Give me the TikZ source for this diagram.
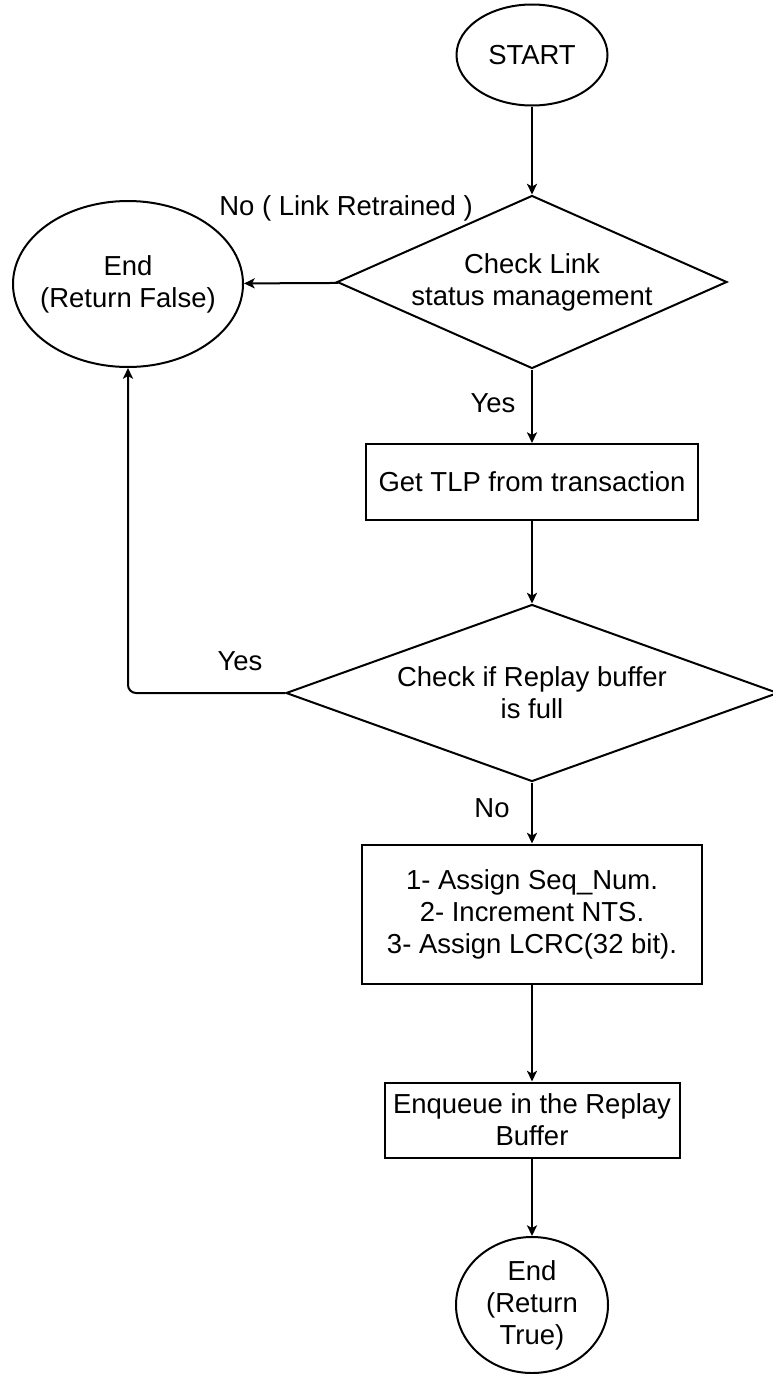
\documentclass[tikz,border=0pt]{standalone}
\usepackage{fontspec}
\setmainfont{Liberation Sans}
\usetikzlibrary{shapes.geometric,arrows.meta}
\tikzset{
    flow-text/.style = {font=\fontsize{20.6}{24}\selectfont, align=center},
    term-oval/.style = {flow-text, draw, ellipse, line width=1.5pt, inner sep=0pt},
    check-diamond/.style = {flow-text, draw, diamond, line width=1.5pt, inner sep=0pt},
    process-box/.style = {flow-text, draw, rectangle, line width=1.5pt, inner sep=0pt},
    flow-arrow/.style = {line width=1.5pt, -{Stealth[length=8pt, width=7.5pt, inset=2pt]}},
    flow-label/.style = {font=\fontsize{20.6}{24}\selectfont, anchor=base},
}

\begin{document}
\begin{tikzpicture}[x=0.75pt, y=-0.75pt]
\useasboundingbox (0,0) rectangle (773,1374);

\node [term-oval, minimum width=113.25pt, minimum height=75.75pt] (start) at (532,55) {START};
\node [check-diamond, aspect=2.25, minimum width=292.5pt, minimum height=129.75pt] (link-check) at (532,282) {Check Link\\status management};
\node [term-oval, inner xsep=-5pt, minimum width=172.5pt, minimum height=124.5pt] (end-false) at (128,284) {End\\(Return False)};
\node [process-box, minimum width=249pt, minimum height=57pt] (get-tlp) at (532,482) {Get TLP from transaction};
\node [check-diamond, aspect=2.78, minimum width=369pt, minimum height=132.75pt] (buffer-check) at (532,693) {Check if Replay buffer\\is full};
\node [process-box, minimum width=255pt, minimum height=104.25pt] (assign) at (532,914) {1- Assign Seq\_Num.\\2- Increment NTS.\\3- Assign LCRC(32 bit).};
\node [process-box, minimum width=221.25pt, minimum height=56.25pt] (enqueue) at (532,1120) {Enqueue in the Replay\\Buffer};
\node [term-oval, minimum width=114pt, minimum height=102pt] (end-true) at (532,1305) {End\\(Return\\True)};

\node [flow-label] (no-retrained) at (346,215) {No ( Link Retrained )};
\node [flow-label] (yes-link) at (493,412) {Yes};
\node [flow-label] (yes-full) at (240,670) {Yes};
\node [flow-label] (no-full) at (492,817) {No};

\draw [flow-arrow] (start) -- (link-check);
\draw [flow-arrow] (link-check) -- (end-false);
\draw [flow-arrow] (link-check) -- (get-tlp);
\draw [flow-arrow] (get-tlp) -- (buffer-check);
\draw [flow-arrow, rounded corners=6pt] (buffer-check.west) -| (end-false.south);
\draw [flow-arrow] (buffer-check) -- (assign);
\draw [flow-arrow] (assign) -- (enqueue);
\draw [flow-arrow] (enqueue) -- (end-true);
\end{tikzpicture}
\end{document}
